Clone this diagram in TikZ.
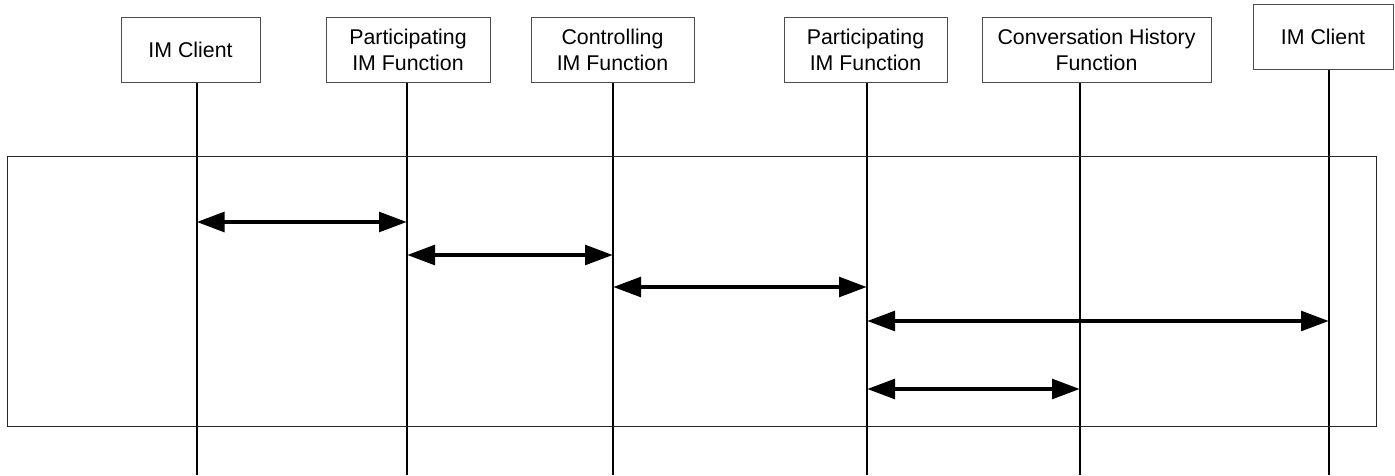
\documentclass[tikz,border=0pt]{standalone}
\usepackage{fontspec}
\setmainfont{Liberation Sans}
\usetikzlibrary{arrows.meta}

\begin{document}
\begin{tikzpicture}[x=0.75pt,y=-0.75pt,
  entity/.style={draw=black!70, line width=0.75pt, align=center, inner sep=0pt,
    minimum height=48.75pt, minimum width=#1, font=\fontsize{16}{19.5}\selectfont},
  life/.style={black, line width=1.5pt},
  msg/.style={black, line width=3.5pt,
    {Triangle[length=21pt,width=14.5pt]}-{Triangle[length=21pt,width=14.5pt]}}]
\useasboundingbox (0,0) rectangle (1395,475);
\node[entity=104.25pt] (imA)  at (190.5,49.5) {IM Client};
\node[entity=123pt]    (pimA) at (408,49.5)   {Participating\\IM Function};
\node[entity=122.25pt] (cim)  at (612.5,49.5) {Controlling\\IM Function};
\node[entity=122.25pt] (pimB) at (865.5,49.5) {Participating\\IM Function};
\node[entity=171.75pt] (chf)  at (1096.5,49.5) {Conversation History\\Function};
\node[entity=105pt]    (imB)  at (1323,37)    {IM Client};
\foreach \e/\x in {imA/196.5, pimA/407, cim/613, pimB/867, chf/1080, imB/1329} {
 \coordinate (\e-b) at (\x,475);
 \draw[life] (\e-b |- \e.south) -- (\e-b);
}
\draw[black!85, line width=0.75pt] (7,156) rectangle (1376,426);
\draw[msg] (imA-b |- 0,222) -- (pimA-b |- 0,222);
\draw[msg] (pimA-b |- 0,255) -- (cim-b |- 0,255);
\draw[msg] (cim-b |- 0,287) -- (pimB-b |- 0,287);
\draw[msg] (pimB-b |- 0,321) -- (imB-b |- 0,321);
\draw[msg] (pimB-b |- 0,389) -- (chf-b |- 0,389);
\end{tikzpicture}
\end{document}
